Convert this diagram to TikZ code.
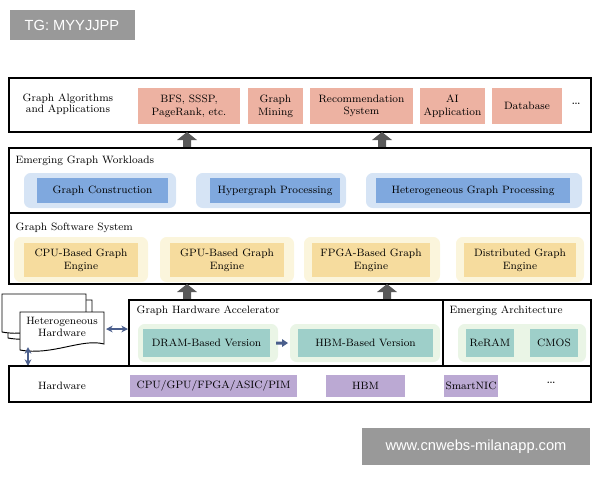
\documentclass[tikz,border=0pt]{standalone}
\usepackage{fontspec}
\newfontfamily\wmfont{Liberation Sans}
\usetikzlibrary{arrows.meta}
\definecolor{salmon}{HTML}{EDB2A2}
\definecolor{bluein}{HTML}{7FA8DE}
\definecolor{blueout}{HTML}{D6E4F5}
\definecolor{yelin}{HTML}{F6DC9E}
\definecolor{yelout}{HTML}{FBF5DC}
\definecolor{tealin}{HTML}{9ECFC9}
\definecolor{greenout}{HTML}{EAF5E6}
\definecolor{purp}{HTML}{BBA9D3}
\definecolor{arrblue}{HTML}{4A5E8C}
\begin{document}
\begin{tikzpicture}[x=0.75pt,y=-0.75pt,
  every node/.style={font=\fontsize{8}{9.5}\selectfont,align=center},
  layer/.style={draw=black,line width=0.9pt},
  ttl/.style={anchor=west},
  sal/.style={fill=salmon},
  bo/.style={fill=blueout,rounded corners=5pt},
  bi/.style={fill=bluein},
  yo/.style={fill=yelout,rounded corners=5pt},
  yi/.style={fill=yelin},
  go/.style={fill=greenout,rounded corners=5pt},
  ti/.style={fill=tealin},
  pu/.style={fill=purp},
  up/.style={draw=none,fill=black!65},
  dt/.style={font=\fontsize{11}{12}\selectfont},
  wm/.style={fill=black!40,text=white,font=\wmfont\fontsize{11}{13}\selectfont},
  dbl/.style={{Stealth[length=5pt,width=5pt]}-{Stealth[length=5pt,width=5pt]},draw=arrblue,line width=1.2pt}]
\useasboundingbox (0,0) rectangle (600,480);
% watermark
\fill[black!40] (10,10) rectangle (135,40);
\node[wm] (tg) at (72,25) {TG: MYYJJPP};
% layer 1
\draw[layer] (9,78) rectangle (591,132);
\node[ttl] (l1) at (18,104) {Graph Algorithms\\[-1pt]and Applications};
\fill[sal] (138,88) rectangle (240,124); \node (a1) at (189,106) {BFS, SSSP,\\PageRank, etc.};
\fill[sal] (248,88) rectangle (303,124); \node (a2) at (275.5,106) {Graph\\Mining};
\fill[sal] (310,88) rectangle (413,124); \node (a3) at (361.5,106) {Recommendation\\System};
\fill[sal] (420,88) rectangle (485,124); \node (a4) at (452.5,106) {AI\\Application};
\fill[sal] (492,88) rectangle (562,124); \node (a5) at (527,106) {Database};
\node[dt] (d1) at (576,104) {\dots};
% arrows
\foreach \x in {187,382}{\fill[up] (\x-4,148) -- (\x-4,140) -- (\x-10,140) -- (\x,132) -- (\x+10,140) -- (\x+4,140) -- (\x+4,148) -- cycle;}
% layer 2
\draw[layer] (9,148) rectangle (591,213);
\node[ttl] (l2) at (11,161) {Emerging Graph Workloads};
\fill[bo] (24,173) rectangle (176,208); \fill[bi] (37,178) rectangle (168,203); \node (b1) at (102.5,190.5) {Graph Construction};
\fill[bo] (196,173) rectangle (346,208); \fill[bi] (210,178) rectangle (340,203); \node (b2) at (275,190.5) {Hypergraph Processing};
\fill[bo] (366,173) rectangle (582,208); \fill[bi] (376,178) rectangle (570,203); \node (b3) at (473,190.5) {Heterogeneous Graph Processing};
% layer 3
\draw[layer] (9,213) rectangle (591,284);
\node[ttl] (l3) at (11,228) {Graph Software System};
\fill[yo] (14,237) rectangle (148,282); \fill[yi] (24,243) rectangle (138,277); \node (c1) at (81,260) {CPU-Based Graph\\Engine};
\fill[yo] (160,237) rectangle (294,282); \fill[yi] (170,243) rectangle (284,277); \node (c2) at (227,260) {GPU-Based Graph\\Engine};
\fill[yo] (304,237) rectangle (440,282); \fill[yi] (312,243) rectangle (430,277); \node (c3) at (371,260) {FPGA-Based Graph\\Engine};
\fill[yo] (456,237) rectangle (584,282); \fill[yi] (464,243) rectangle (576,277); \node (c4) at (520,260) {Distributed Graph\\Engine};
\foreach \x in {187,387}{\fill[up] (\x-4,300) -- (\x-4,292) -- (\x-10,292) -- (\x,284) -- (\x+10,292) -- (\x+4,292) -- (\x+4,300) -- cycle;}
% layer 4
\draw[layer] (129,300) rectangle (443,366);
\draw[layer] (443,300) rectangle (591,366);
\node[ttl] (l4) at (132,311) {Graph Hardware Accelerator};
\node[ttl] (l5) at (445,311) {Emerging Architecture};
\fill[go] (138,324) rectangle (278,362); \fill[ti] (143,329) rectangle (270,357); \node (e1) at (206.5,343) {DRAM-Based Version};
\fill[go] (290,324) rectangle (440,362); \fill[ti] (298,329) rectangle (433,357); \node (e2) at (365.5,343) {HBM-Based Version};
\fill[arrblue] (276,341.5) -- (282,341.5) -- (282,339) -- (288,343) -- (282,347) -- (282,344.5) -- (276,344.5) -- cycle;
\fill[go] (458,324) rectangle (586,362);
\fill[ti] (466,329) rectangle (514,357); \node (f1) at (490,343) {ReRAM};
\fill[ti] (530,329) rectangle (578,357); \node (f2) at (554,343) {CMOS};
% hetero hardware stack
\foreach \d in {12,6}{\draw[fill=white,line width=0.7pt] (8+\d-12,300+\d-12) -- (92+\d-12,300+\d-12) -- (92+\d-12,332+\d-12) .. controls (70+\d-12,326+\d-12) and (40+\d-12,344+\d-12) .. (8+\d-12,338+\d-12) -- cycle;}
\draw[fill=white,line width=0.7pt] (20,312) -- (104,312) -- (104,344) .. controls (82,338) and (52,356) .. (20,350) -- cycle;
\node (hh) at (62,327) {Heterogeneous\\Hardware};
\coordinate (hr) at (106,329); \coordinate (al) at (128,329);
\draw[dbl] (hr) -- (al);
\coordinate (ht) at (28,347); \coordinate (hb) at (28,366);
\draw[dbl] (ht) -- (hb);
% layer 5
\draw[layer] (9,366) rectangle (591,402);
\node (l6) at (62,386) {Hardware};
\fill[pu] (130,375) rectangle (297,397); \node (g1) at (213.5,386) {CPU/GPU/FPGA/ASIC/PIM};
\fill[pu] (326,375) rectangle (405,397); \node (g2) at (365.5,386) {HBM};
\fill[pu] (444,375) rectangle (498,397); \node (g3) at (471,386) {SmartNIC};
\node[dt] (d2) at (551,383) {\dots};
% bottom watermark
\fill[black!40] (362,428) rectangle (590,465);
\node[wm] (wm2) at (476,446.5) {www.cnwebs-milanapp.com};
\end{tikzpicture}
\end{document}
